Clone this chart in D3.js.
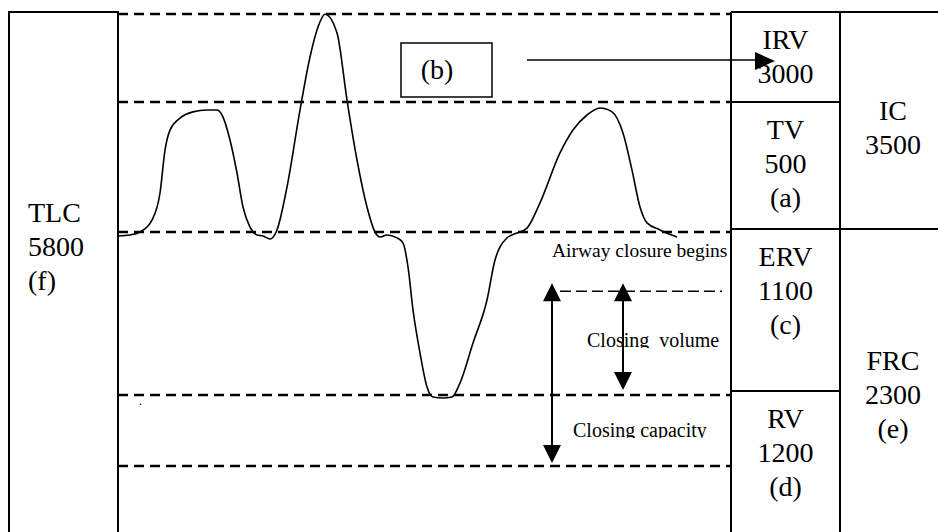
<!DOCTYPE html>
<html>
<head>
<meta charset="utf-8">
<script src="https://cdn.jsdelivr.net/npm/d3@7"></script>
<style>
  body { margin: 0; background: #fff; }
  svg { display: block; font-family: "Liberation Serif", "Times New Roman", serif; }
</style>
</head>
<body>
<div id="chart"></div>
<script>
// lung volumes, mL (diagram is schematic, not to scale)
const levels = [5800, 2800, 2300, 1200, 700]; // TLC, end of inspiration, FRC, RV, closing capacity
const closureLevel = 1900;

const volumeNames = ["IRV", "TV", "ERV", "RV"];
const volumeValues = [3000, 500, 1100, 1200];
const volumeTags = ["", "(a)", "(c)", "(d)"];
const volumeTops = [5800, 2800, 2300, 1200];

const capacityNames = ["IC", "FRC"];
const capacityValues = [3500, 2300];
const capacityTags = ["", "(e)"];
const capacityTops = [5800, 2300];

const totalName = "TLC";
const totalValue = 5800;
const totalTag = "(f)";

// spirogram trace
const traceTime = [0, 1.2, 2.2, 3.4, 4.2, 4.7, 5.2, 6.2, 7.5, 8.9,
  9.9, 10.4, 11.2, 11.9, 12.5, 13.2, 13.9, 14.5, 15.2, 15.9,
  16.9, 18.2, 19.2, 20.0, 20.7, 21.9, 22.9, 23.9, 24.9, 25.7,
  26.2, 26.9, 27.9, 28.5, 29.0, 29.5, 30.2, 30.9, 31.5, 32.5,
  33.4, 34.2, 35.5, 36.9, 37.7, 38.2, 38.9, 39.9, 40.9, 42.2,
  44.2, 45.5, 46.9, 48.2, 49.4, 50.5, 51.4, 52.2, 52.9, 54.2, 55.9];
const traceVolume = [2273, 2280, 2300, 2346, 2450, 2615, 2692, 2738, 2762, 2769,
  2769, 2750, 2654, 2527, 2396, 2319, 2280, 2273, 2253, 2308,
  2473, 2769, 4334, 5357, 5790, 5152, 2868, 2577, 2396, 2300,
  2266, 2280, 2260, 2226, 2064, 1774, 1483, 1254, 1186, 1179,
  1186, 1281, 1551, 1841, 2111, 2199, 2260, 2293, 2315, 2412,
  2604, 2692, 2750, 2777, 2762, 2681, 2538, 2396, 2335, 2308, 2266];

const width = 938;
const height = 532;

const svg = d3.select("#chart").append("svg")
  .attr("width", width)
  .attr("height", height);

const x = d3.scaleLinear().domain([0, 61.3]).range([118, 731]);
const y = d3.scaleLinear().domain(levels).range([14, 102, 232, 395, 466]);
const boxY = d3.scaleLinear().domain([5800, 2800, 2300, 1200, 0]).range([12, 102, 229, 391, 560]);

const colLeft = [9, 118];
const colMid = [731, 840];
const colRight = [840, 960];
const lineH = 34;

// dashed reference lines
svg.selectAll("line.level")
  .data(levels)
  .enter().append("line")
    .attr("class", "level")
    .attr("x1", x(0))
    .attr("x2", x(61.3))
    .attr("y1", d => y(d))
    .attr("y2", d => y(d))
    .attr("stroke", "#000")
    .attr("stroke-width", 2.5)
    .attr("stroke-dasharray", "10,6");

// boxes
const boxes = svg.append("g")
  .attr("fill", "none")
  .attr("stroke", "#000")
  .attr("stroke-width", 2);

boxes.append("rect")
  .attr("x", colLeft[0]).attr("y", boxY(totalValue))
  .attr("width", colLeft[1] - colLeft[0]).attr("height", boxY(0) - boxY(totalValue));

volumeTops.forEach(v => {
  boxes.append("line")
    .attr("x1", colMid[0]).attr("x2", colMid[1])
    .attr("y1", boxY(v)).attr("y2", boxY(v));
});
capacityTops.forEach(v => {
  boxes.append("line")
    .attr("x1", colRight[0]).attr("x2", colRight[1])
    .attr("y1", boxY(v)).attr("y2", boxY(v));
});
[colMid[0], colMid[1]].forEach(px => {
  boxes.append("line")
    .attr("x1", px).attr("x2", px)
    .attr("y1", boxY(5800)).attr("y2", boxY(0));
});

// box labels
function addLabel (lines, cx, top, anchor) {
  const t = svg.append("text")
    .attr("font-size", 28)
    .attr("text-anchor", anchor)
    .attr("fill", "#000");
  lines.filter(s => s !== "").forEach((s, i) => {
    t.append("tspan").attr("x", cx).attr("y", top + i * lineH).text(s);
  });
}

volumeNames.forEach((name, i) => {
  addLabel([name, String(volumeValues[i]), volumeTags[i]], 785.5, boxY(volumeTops[i]) + 37, "middle");
});
const capacityOffsets = [108, 141];
capacityNames.forEach((name, i) => {
  addLabel([name, String(capacityValues[i]), capacityTags[i]], 893, boxY(capacityTops[i]) + capacityOffsets[i], "middle");
});
addLabel([totalName, String(totalValue), totalTag], 28, boxY(totalValue) + 210, "start");

// trace
const trace = traceTime.map((t, i) => [t, traceVolume[i]]);
const line = d3.line()
  .x(d => x(d[0]))
  .y(d => y(d[1]))
  .curve(d3.curveMonotoneX);

svg.append("path")
  .datum(trace)
  .attr("d", line)
  .attr("fill", "none")
  .attr("stroke", "#000")
  .attr("stroke-width", 1.6);

// (b) box and arrow to IRV
svg.append("rect")
  .attr("x", 401).attr("y", 43)
  .attr("width", 91).attr("height", 54)
  .attr("fill", "none").attr("stroke", "#000").attr("stroke-width", 1.5);
svg.append("text")
  .attr("x", 437).attr("y", 79)
  .attr("font-size", 28).attr("text-anchor", "middle")
  .text("(b)");
svg.append("line")
  .attr("x1", 527).attr("x2", 760)
  .attr("y1", 60).attr("y2", 60)
  .attr("stroke", "#000").attr("stroke-width", 1.5);
svg.append("path")
  .attr("d", "M755,52 L775,61 L755,70 Z")
  .attr("fill", "#000");

// airway closure
svg.append("text")
  .attr("x", 552).attr("y", y(2300) + 25)
  .attr("font-size", 19.5)
  .text("Airway closure begins");

svg.append("line")
  .attr("x1", x(44.2)).attr("x2", x(60.4))
  .attr("y1", y(closureLevel)).attr("y2", y(closureLevel))
  .attr("stroke", "#000").attr("stroke-width", 1.5)
  .attr("stroke-dasharray", "11,5");

function doubleArrow (t, top, bottom) {
  const cx = x(t);
  const g = svg.append("g");
  g.append("line")
    .attr("x1", cx).attr("x2", cx)
    .attr("y1", top + 10).attr("y2", bottom - 10)
    .attr("stroke", "#000").attr("stroke-width", 2);
  g.append("path")
    .attr("d", `M${cx},${top} L${cx + 9},${top + 18} L${cx - 9},${top + 18} Z`)
    .attr("fill", "#000");
  g.append("path")
    .attr("d", `M${cx},${bottom} L${cx + 9},${bottom - 18} L${cx - 9},${bottom - 18} Z`)
    .attr("fill", "#000");
}

// clipped captions (descenders cut off as in the original)
function clippedText (id, str, px, base) {
  svg.append("clipPath").attr("id", id)
    .append("rect").attr("x", px - 5).attr("y", base - 25).attr("width", 200).attr("height", 26);
  svg.append("text")
    .attr("x", px).attr("y", base)
    .attr("font-size", 20)
    .attr("clip-path", `url(#${id})`)
    .attr("xml:space", "preserve")
    .style("white-space", "pre")
    .text(str);
}

clippedText("cv", "Closing  volume", 587, 347);
clippedText("cc", "Closing capacity", 573, 437);

doubleArrow(43.4, y(closureLevel) - 8, y(700) - 3);
doubleArrow(50.5, y(closureLevel) - 8, y(1200) - 5);

// stray dot
svg.append("text")
  .attr("x", 139).attr("y", 405)
  .attr("font-size", 12)
  .text(".");
</script>
</body>
</html>
